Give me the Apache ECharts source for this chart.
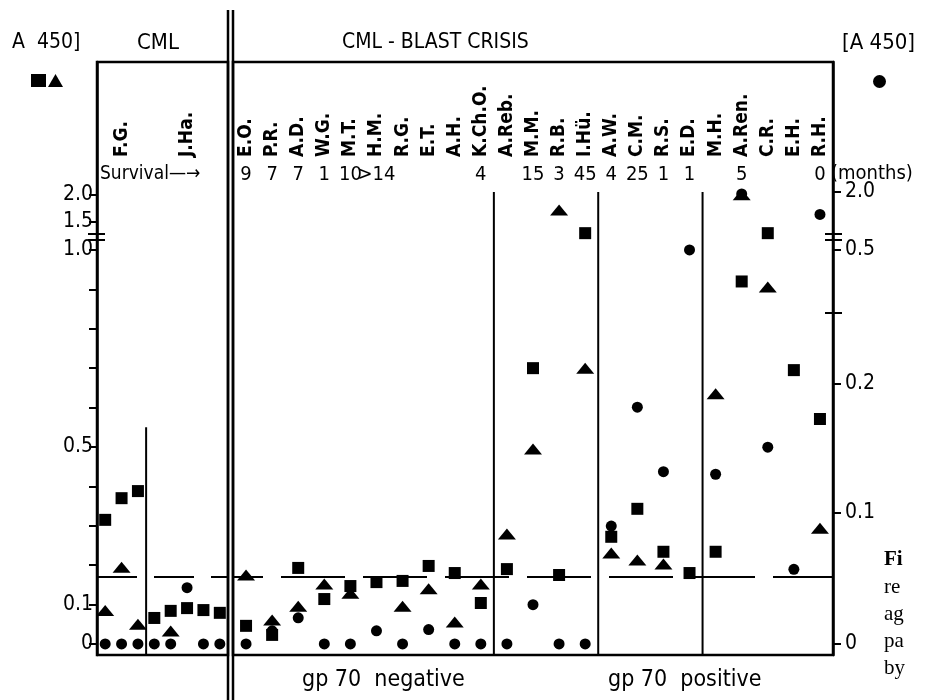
<!DOCTYPE html>
<html>
<head>
<meta charset="utf-8">
<script src="https://cdn.jsdelivr.net/npm/echarts@6.0.0/dist/echarts.min.js"></script>
<style>
html, body { margin: 0; padding: 0; background: #fff; }
#main { width: 928px; height: 700px; }
</style>
</head>
<body>
<div id="main"></div>
<script>
// CML (chronic phase): serial samples of two patients
var cmlPatient = ['F.G.', 'F.G.', 'F.G.', 'J.Ha.', 'J.Ha.', 'J.Ha.', 'J.Ha.', 'J.Ha.'];
var cmlSquare = [0.315, 0.37, 0.388, 0.066, 0.084, 0.091, 0.086, 0.079];
var cmlTriangle = [0.085, 0.195, 0.05, null, 0.033, null, null, null];
var cmlCircle = [0, 0, 0, 0, 0, 0.043, 0, 0];

// CML - blast crisis
var patients = ['E.O.', 'P.R.', 'A.D.', 'W.G.', 'M.T.', 'H.M.', 'R.G.', 'E.T.', 'A.H.', 'K.Ch.O.', 'A.Reb.',
    'M.M.', 'R.B.', 'I.Hü.', 'A.W.', 'C.M.', 'R.S.', 'E.D.', 'M.H.', 'A.Ren.', 'C.R.', 'E.H.', 'R.H.'];
var survival = ['9', '7', '7', '1', '10', '>14', '', '', '', '4', '', '15', '3', '45', '4', '25', '1', '1', '', '5', '', '', '0'];
var blastSquare = [0.046, 0.023, 0.193, 0.114, 0.147, 0.157, 0.16, 0.198, 0.18, 0.104, 0.19,
    0.70, 0.175, 1.30, 0.272, 0.343, 0.234, 0.18, 0.234, 0.92, 1.30, 0.695, 0.571];
var blastTriangle = [0.175, 0.061, 0.096, 0.152, 0.129, null, 0.096, 0.14, 0.056, 0.152, 0.279,
    0.495, 1.72, 0.70, 0.231, 0.213, 0.203, null, 0.635, 2.0, 0.906, null, 0.294];
var blastCircle = [0, 0.01, 0.02, 0, 0, 0.01, 0, 0.011, 0, 0, 0,
    0.03, 0, 0, 0.09, 0.182, 0.132, 0.5, 0.13, 1.95, 0.151, 0.057, 1.42];

var groupStarts = [10, 14, 18];   // dividers before A.Reb., A.W., M.H.
var cutoff = 0.165;               // dashed line, left scale
var cmlDividerTop = 0.55;

// broken scales: A450 value -> height on the plot (1 = height of 1.0 on the left scale)
var leftScaleV = [0, 1.0, 1.5, 2.0];
var leftScaleH = [0, 1.0, 1.071, 1.14];
var rightScaleV = [0, 0.1, 0.2, 0.5, 2.0];
var rightScaleH = [0, 0.3325, 0.66, 1.0, 1.147];
var leftTicks = [0, 0.1, 0.2, 0.3, 0.4, 0.5, 0.6, 0.7, 0.8, 0.9, 1.0, 1.5, 2.0];
var leftLabels = ['0', '0.1', '0.5', '1.0', '1.5', '2.0'];
var rightTicks = [0, 0.1, 0.2, 0.5, 2.0];
var rightLabels = ['0', '0.1', '0.2', '0.5', '2.0'];
var leftBreaks = [1.026, 1.040];
var rightBreaks = [0.84, 1.026, 1.040];

var font = "'DejaVu Sans Condensed', 'Liberation Sans Narrow', 'DejaVu Sans', sans-serif";
var hMin = -0.028, hMax = 1.477;

function toH(v, vs, hs) {
    if (v == null) return null;
    for (var i = 1; i < vs.length; i++) {
        if (v <= vs[i]) {
            return hs[i - 1] + (v - vs[i - 1]) / (vs[i] - vs[i - 1]) * (hs[i] - hs[i - 1]);
        }
    }
    return hs[hs.length - 1];
}
function left(v) { return toH(v, leftScaleV, leftScaleH); }
function right(v) { return toH(v, rightScaleV, rightScaleH); }

function labelMap(values, fn) {
    var m = {};
    values.forEach(function (t) { m[fn(+t).toFixed(3)] = t; });
    return m;
}
var leftText = labelMap(leftLabels, left);
var rightText = labelMap(rightLabels, right);

var cmlCats = cmlPatient.map(function (p, i) { return p + '#' + i; });
var cmlMid = {};
cmlPatient.forEach(function (p, i) {
    var first = cmlPatient.indexOf(p), last = cmlPatient.lastIndexOf(p);
    if (i === Math.floor((first + last) / 2)) cmlMid[i] = p;
});

var chart = echarts.init(document.getElementById('main'));

function valueAxis(gridIndex, position, ticks, labels, textMap, margin) {
    return {
        type: 'value', gridIndex: gridIndex, position: position, min: hMin, max: hMax,
        axisLine: { show: true, lineStyle: { color: '#000', width: 2.5 } },
        axisTick: { show: true, length: 8, customValues: ticks, lineStyle: { color: '#000', width: 2 } },
        axisLabel: {
            customValues: labels, margin: margin, color: '#000', fontSize: 21, fontFamily: font,
            formatter: function (v) { return textMap[v.toFixed(3)] || ''; }
        },
        splitLine: { show: false }
    };
}
function breakAxis(gridIndex, position, ticks) {
    return {
        type: 'value', gridIndex: gridIndex, position: position, min: hMin, max: hMax, offset: -8,
        axisLine: { show: false },
        axisTick: { show: true, length: 17, customValues: ticks, lineStyle: { color: '#000', width: 2 } },
        axisLabel: { show: false },
        splitLine: { show: false }
    };
}
function nameAxis(gridIndex, data, formatter) {
    return {
        type: 'category', gridIndex: gridIndex, data: data, position: 'bottom', offset: -496,
        axisLine: { show: false }, axisTick: { show: false },
        axisLabel: {
            inside: true, rotate: 90, margin: 2, interval: 0, color: '#000',
            fontSize: 19, fontWeight: 'bold', fontFamily: font, formatter: formatter
        }
    };
}
function cutLine(dash, dashOffset) {
    return {
        silent: true, symbol: 'none', label: { show: false },
        lineStyle: { color: '#000', width: 2, type: dash, dashOffset: dashOffset },
        data: [{ yAxis: left(cutoff) }]
    };
}
function scatter(name, symbol, size, x, y, data, markLine) {
    var s = {
        name: name, type: 'scatter', symbol: symbol, symbolSize: size,
        xAxisIndex: x, yAxisIndex: y, data: data,
        itemStyle: { color: '#000', opacity: 1 }, emphasis: { disabled: true }
    };
    if (markLine) s.markLine = markLine;
    return s;
}

var SQ = 'A 450 ■', TR = 'A 450 ▲', CI = 'A 450 ●';

function textEl(text, x, y, size, extra) {
    var style = { text: text, x: x, y: y, fill: '#000', fontSize: size, fontFamily: font, textVerticalAlign: 'middle' };
    for (var k in extra) style[k] = extra[k];
    return { type: 'text', silent: true, style: style };
}

chart.setOption({
    animation: false,
    backgroundColor: '#fff',
    grid: [
        { left: 97, top: 62, width: 131, bottom: 45, show: true, borderColor: '#000', borderWidth: 2.5 },
        { left: 233, top: 62, width: 600, bottom: 45, show: true, borderColor: '#000', borderWidth: 2.5 }
    ],
    legend: [
        { left: 26, top: 69, itemWidth: 15, itemHeight: 13, itemGap: 2, selectedMode: false,
          formatter: function () { return ''; }, data: [{ name: SQ, icon: 'rect' }, { name: TR, icon: 'triangle' }] },
        { left: 868, top: 70, itemWidth: 13, itemHeight: 13, selectedMode: false,
          formatter: function () { return ''; }, data: [{ name: CI, icon: 'circle' }] }
    ],
    xAxis: [
        nameAxis(0, cmlCats, function (v, i) { return cmlMid[i] || ''; }),
        nameAxis(1, patients),
        {
            type: 'category', gridIndex: 1, data: survival, position: 'bottom', offset: -493,
            axisLine: { show: false }, axisTick: { show: false },
            axisLabel: { interval: 0, margin: 3, color: '#000', fontSize: 20, fontFamily: font }
        }
    ],
    yAxis: [
        valueAxis(0, 'left', leftTicks.map(left), leftLabels.map(Number).map(left), leftText, 4),
        valueAxis(1, 'right', rightTicks.map(right), rightLabels.map(Number).map(right), rightText, 12),
        breakAxis(0, 'left', leftBreaks),
        breakAxis(1, 'right', rightBreaks)
    ],
    series: [
        scatter(SQ, 'rect', 12, 0, 0, cmlSquare.map(left), cutLine([40, 17], 0)),
        scatter(TR, 'triangle', [18, 11], 0, 0, cmlTriangle.map(left)),
        scatter(CI, 'circle', 11, 0, 0, cmlCircle.map(right)),
        scatter(SQ, 'rect', 12, 1, 1, blastSquare.map(left), cutLine([64, 18], 34)),
        scatter(TR, 'triangle', [18, 11], 1, 1, blastTriangle.map(left)),
        scatter(CI, 'circle', 11, 1, 1, blastCircle.map(right))
    ]
});

// dividers, double separator line and annotations
var bottomY = chart.convertToPixel({ yAxisIndex: 0 }, hMin);
var topY = chart.convertToPixel({ yAxisIndex: 1 }, right(2.0));
function boundary(axis, i) {
    return (chart.convertToPixel({ xAxisIndex: axis }, i - 1) + chart.convertToPixel({ xAxisIndex: axis }, i)) / 2;
}
var lines = [];
function vline(x, y1, y2, w) {
    lines.push({ type: 'line', silent: true, shape: { x1: x, y1: y1, x2: x, y2: y2 },
        style: { stroke: '#000', lineWidth: w } });
}
vline(boundary(0, 3), chart.convertToPixel({ yAxisIndex: 0 }, left(cmlDividerTop)), bottomY, 2);
groupStarts.forEach(function (i) { vline(boundary(1, i), topY, bottomY, 2); });
vline(228, 10, 700, 2.5);
vline(233, 10, 700, 2.5);

lines.push(textEl('A  450]', 12, 43, 21));
lines.push(textEl('CML', 137, 43, 22));
lines.push(textEl('CML - BLAST CRISIS', 342, 43, 21));
lines.push(textEl('[A 450]', 842, 43, 22));
lines.push(textEl('Survival\u2014\u2192', 100, 174, 19));
lines.push(textEl('(months)', 831, 174, 20));
lines.push(textEl('gp 70  negative', 302, 680, 23));
lines.push(textEl('gp 70  positive', 608, 680, 23));
var caption = ['Fi', 're', 'ag', 'pa', 'by'];
caption.forEach(function (c, i) {
    lines.push(textEl(c, 884, 560 + i * 27, 21, {
        fontFamily: "'Liberation Serif', 'DejaVu Serif', serif", fontWeight: i === 0 ? 'bold' : 'normal'
    }));
});
chart.setOption({ graphic: lines });
</script>
</body>
</html>
